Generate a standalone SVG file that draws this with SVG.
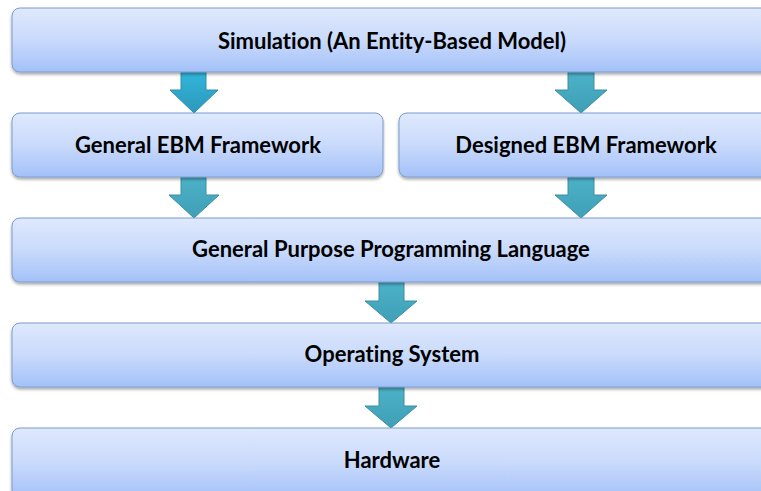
<svg xmlns="http://www.w3.org/2000/svg" width="761" height="491" viewBox="0 0 761 491">
  <defs>
    <linearGradient id="boxFill" x1="0" y1="0" x2="0" y2="1">
      <stop offset="0" stop-color="#dfe9fd"/>
      <stop offset="0.5" stop-color="#c9dafb"/>
      <stop offset="1" stop-color="#a3c1f8"/>
    </linearGradient>
    <linearGradient id="arrowFill" x1="0" y1="0" x2="0" y2="1">
      <stop offset="0" stop-color="#4cb2c8"/>
      <stop offset="1" stop-color="#3f9fb6"/>
    </linearGradient>
    <linearGradient id="arrowFillBright" x1="0" y1="0" x2="0" y2="1">
      <stop offset="0" stop-color="#30b6dc"/>
      <stop offset="1" stop-color="#2d98b8"/>
    </linearGradient>
    <filter id="shadow" x="-5%" y="-20%" width="110%" height="150%">
      <feGaussianBlur in="SourceAlpha" stdDeviation="1.5"/>
      <feOffset dy="2" result="b"/>
      <feComponentTransfer><feFuncA type="linear" slope="0.35"/></feComponentTransfer>
      <feMerge><feMergeNode/><feMergeNode in="SourceGraphic"/></feMerge>
    </filter>
  </defs>
  <style>
    .box { fill: url(#boxFill); stroke: #7d9ccc; stroke-width: 1; filter: url(#shadow); }
    .label { font-family: Lato, "Open Sans", "Liberation Sans", sans-serif; font-weight: bold; font-size: 22px; fill: #000; text-anchor: middle; font-variant-ligatures: none; }
    .arrow { fill: url(#arrowFill); stroke: #3a8ea3; stroke-width: 1; }
    .arrow.bright { fill: url(#arrowFillBright); stroke: #2e8fac; }
  </style>
  <rect width="761" height="491" fill="#ffffff"/>

  <g id="connectors">
    <!-- Simulation -> General EBM Framework -->
    <path class="arrow bright" d="M181,72 H206 V90 H218 L194,113 L170,90 H181 Z"/>
    <!-- Simulation -> Designed EBM Framework -->
    <path class="arrow" d="M568,72 H594 V90 H607 L581,113 L555,90 H568 Z"/>
    <!-- General EBM Framework -> General Purpose Programming Language -->
    <path class="arrow" d="M181,177 H206 V195 H219 L194,218 L169,195 H181 Z"/>
    <!-- Designed EBM Framework -> General Purpose Programming Language -->
    <path class="arrow" d="M568,177 H594 V195 H607 L581,218 L555,195 H568 Z"/>
    <!-- General Purpose Programming Language -> Operating System -->
    <path class="arrow" d="M379,282 H404 V301 H417 L391,323 L365,301 H379 Z"/>
    <!-- Operating System -> Hardware -->
    <path class="arrow" d="M379,387 H404 V406 H417 L391,428 L365,406 H379 Z"/>
  </g>

  <g id="simulation">
    <rect class="box" x="12" y="8" width="762" height="64" rx="8"/>
    <text class="label" x="392" y="49">Simulation (An Entity-Based Model)</text>
  </g>
  <g id="general-ebm">
    <rect class="box" x="12" y="113" width="371" height="64" rx="8"/>
    <text class="label" x="198" y="153">General EBM Framework</text>
  </g>
  <g id="designed-ebm">
    <rect class="box" x="399" y="113" width="375" height="64" rx="8"/>
    <text class="label" x="586" y="153">Designed EBM Framework</text>
  </g>
  <g id="programming-language">
    <rect class="box" x="12" y="218" width="762" height="64" rx="8"/>
    <text class="label" x="391" y="257">General Purpose Programming Language</text>
  </g>
  <g id="operating-system">
    <rect class="box" x="12" y="323" width="762" height="64" rx="8"/>
    <text class="label" x="392" y="362">Operating System</text>
  </g>
  <g id="hardware">
    <rect class="box" x="12" y="428" width="762" height="70" rx="8"/>
    <text class="label" x="392" y="468">Hardware</text>
  </g>
</svg>
